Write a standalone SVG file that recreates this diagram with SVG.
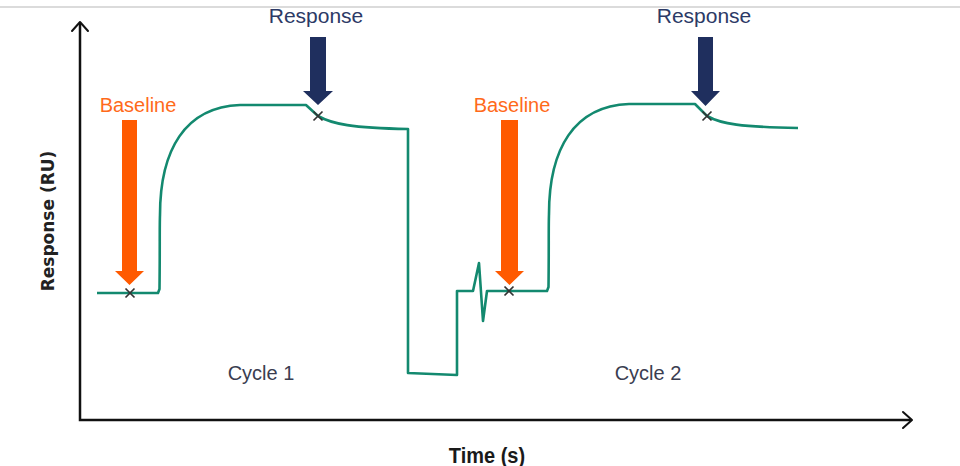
<svg xmlns="http://www.w3.org/2000/svg" width="960" height="466" viewBox="0 0 960 466">
  <style>
    .axis { stroke: #111; stroke-width: 2.5; fill: none; }
    .head { stroke: #111; stroke-width: 2; fill: none; stroke-linecap: round; stroke-linejoin: round; }
    .curve { stroke: #13896f; stroke-width: 2.6; fill: none; stroke-linejoin: round; }
    .mark { stroke: #333; stroke-width: 1.7; fill: none; }
    .orange { fill: #ff5a00; }
    .navy { fill: #1f2f5e; }
    .lblO { font-family: "Liberation Sans", Arial, sans-serif; font-size: 20px; fill: #ff6a1a; text-anchor: middle; }
    .lblN { font-family: "Liberation Sans", Arial, sans-serif; font-size: 21px; fill: #2c3a66; text-anchor: middle; }
    .cyc { font-family: "Liberation Sans", Arial, sans-serif; font-size: 20px; fill: #3a3d50; text-anchor: middle; }
    .ax { font-family: "DejaVu Sans", "Liberation Sans", sans-serif; font-weight: bold; font-size: 17px; fill: #222; text-anchor: middle; }
    .tx { font-family: "Liberation Sans", Arial, sans-serif; font-weight: bold; font-size: 20px; fill: #1a1a1a; text-anchor: middle; }
  </style>
  <rect width="960" height="466" fill="#fff"/>
  <line x1="0" y1="7" x2="960" y2="7" stroke="#cfcfcf" stroke-width="1.5"/>

  <g id="axes">
    <path class="axis" d="M80,23 L80,420 L911,420"/>
    <path class="head" d="M72,31 L80,22 L88,31"/>
    <path class="head" d="M903,412 L912,420 L903,428"/>
    <text class="ax" x="0" y="0" transform="translate(54,221) rotate(-90)">Response (RU)</text>
    <text class="tx" x="0" y="0" transform="translate(487,463) scale(1,1.12)">Time (s)</text>
  </g>

  <g id="connectors">
    <path class="curve" d="M97,293 L158,293 L159.5,289 C160,250 159.5,225 160,215 C160,150 185,107 240,105 L306,105 L318,116 C332,124 352,128 408,129 L408,373 L457,375 L457,291 L473,291 L479,263 L483,321 L487,291 L547,291 L548.5,287 C549,250 548.5,225 549,214 C549,149 574,106 629,104 L695,104 L707,116 C721,124 741,127 798,128"/>
  </g>

  <g id="markers">
    <path class="mark" d="M125.5,288.5 L134.5,297.5 M134.5,288.5 L125.5,297.5"/>
    <path class="mark" d="M313.5,111.5 L322.5,120.5 M322.5,111.5 L313.5,120.5"/>
    <path class="mark" d="M504.5,286.5 L513.5,295.5 M513.5,286.5 L504.5,295.5"/>
    <path class="mark" d="M702.5,111.5 L711.5,120.5 M711.5,111.5 L702.5,120.5"/>
  </g>

  <g id="baseline1">
    <polygon class="orange" points="122,120 137,120 137,271 144,271 129.5,285 115,271 122,271"/>
    <text class="lblO" x="138" y="112">Baseline</text>
  </g>
  <g id="baseline2">
    <polygon class="orange" points="501,120 518,120 518,271 524,271 509.5,285 495,271 501,271"/>
    <text class="lblO" x="512" y="112">Baseline</text>
  </g>
  <g id="response1">
    <polygon class="navy" points="310,37 326,37 326,91 333,91 318,105 303,91 310,91"/>
    <text class="lblN" x="316" y="23">Response</text>
  </g>
  <g id="response2">
    <polygon class="navy" points="698,37 713,37 713,91 720,91 705.5,106 691,91 698,91"/>
    <text class="lblN" x="704" y="23">Response</text>
  </g>

  <g id="cycle1"><text class="cyc" x="261" y="380">Cycle 1</text></g>
  <g id="cycle2"><text class="cyc" x="648" y="380">Cycle 2</text></g>
</svg>
